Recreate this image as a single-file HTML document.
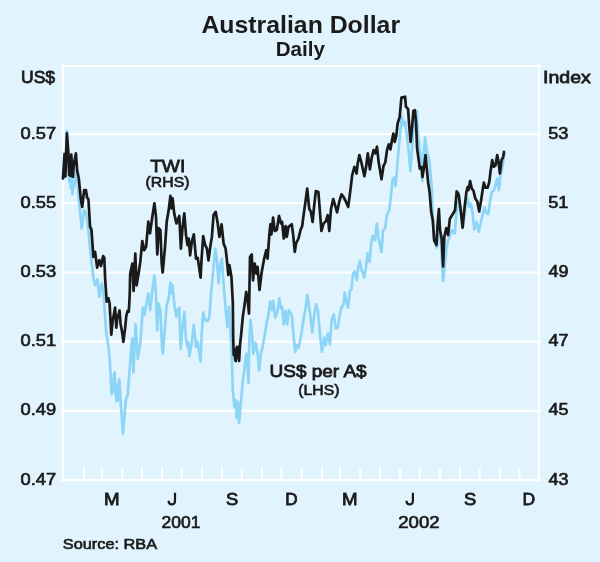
<!DOCTYPE html>
<html><head><meta charset="utf-8">
<style>
html,body{margin:0;padding:0;background:#e1f3fd;}
body{width:600px;height:562px;overflow:hidden;position:relative;font-family:"Liberation Sans",sans-serif;color:#1a1a1a;}
svg{position:absolute;left:0;top:0;display:block;}
text{font-family:"Liberation Sans",sans-serif;fill:#1a1a1a;}
</style></head><body>
<svg width="600" height="562" viewBox="0 0 600 562">
<rect width="600" height="562" fill="#e1f3fd"/>
<g stroke="#ffffff" stroke-width="2.1" fill="none">
<path d="M61 134.15H540.8M61 203.32H540.8M61 272.49H540.8M61 341.66H540.8M61 410.83H540.8"/>
<path d="M61 66H540.8M61 480H540.8M63 64.2V481.8M538.9 64.2V481.8"/>
<path d="M83.9 468V480M102.2 468V480M122.4 468V480M141.9 468V480M162.1 468V480M181.7 468V480M201.9 468V480M222.1 468V480M241.7 468V480M261.9 468V480M281.4 468V480M301.6 468V480M321.9 468V480M340.1 468V480M360.3 468V480M379.9 468V480M400.1 468V480M419.6 468V480M439.9 468V480M460.1 468V480M479.6 468V480M499.8 468V480M519.4 468V480"/>
</g>
<path d="M63.0 178.5 L64.4 153.0 L65.2 170.0 L66.9 130.9 L68.2 160.0 L69.4 182.0 L70.2 176.0 L70.8 188.0 L71.6 180.0 L72.5 194.0 L73.3 183.0 L74.2 187.0 L75.9 171.0 L77.4 178.0 L79.2 203.6 L81.7 228.4 L84.2 210.0 L86.3 214.0 L88.4 230.0 L90.1 248.5 L92.6 271.0 L93.8 280.0 L95.1 285.0 L97.4 279.5 L99.3 296.7 L101.8 283.0 L103.8 296.7 L106.0 330.2 L108.5 346.9 L109.8 360.0 L111.6 394.3 L112.4 380.0 L113.1 392.0 L114.0 374.0 L114.7 372.5 L115.4 392.0 L116.5 401.0 L117.2 386.0 L117.9 400.5 L118.6 383.0 L119.4 379.2 L120.3 396.0 L121.0 406.8 L123.0 433.6 L124.9 410.2 L126.1 398.5 L127.7 395.1 L130.2 362.0 L131.1 350.2 L132.3 338.5 L133.4 372.5 L135.6 324.3 L137.8 358.6 L140.3 343.5 L142.8 307.6 L144.4 315.1 L148.3 293.4 L150.2 310.2 L152.0 293.4 L154.4 275.5 L155.9 293.4 L157.2 330.2 L158.5 303.5 L160.4 310.2 L161.7 340.3 L162.7 353.6 L165.0 326.9 L166.7 305.2 L168.7 298.5 L170.4 282.6 L171.4 293.4 L172.6 285.1 L174.2 303.5 L176.4 316.9 L177.6 310.2 L179.3 307.7 L180.7 349.0 L182.6 326.9 L184.3 311.8 L186.0 340.0 L187.6 347.0 L188.3 342.0 L189.5 355.9 L191.8 342.0 L193.8 325.2 L196.0 347.0 L197.7 342.0 L200.6 361.7 L201.6 335.3 L203.2 312.7 L205.2 320.2 L207.7 321.0 L209.4 316.9 L211.0 293.4 L212.7 276.7 L214.2 260.0 L215.2 248.6 L216.9 260.0 L218.6 283.4 L220.2 265.0 L221.9 258.6 L223.6 285.1 L225.6 308.5 L227.3 326.9 L228.9 306.8 L230.3 326.9 L231.7 356.0 L232.8 390.2 L234.4 406.9 L235.6 400.2 L236.6 417.8 L237.8 401.9 L239.1 422.8 L240.8 403.5 L242.8 381.8 L244.5 368.4 L246.3 353.5 L247.6 366.0 L248.5 383.0 L249.4 338.5 L250.5 320.1 L251.7 330.2 L253.4 353.6 L255.4 342.7 L257.6 353.6 L259.2 370.3 L260.9 353.6 L262.6 346.9 L264.7 335.2 L266.8 321.8 L268.4 315.1 L270.1 301.7 L271.8 310.1 L273.1 300.9 L275.1 317.6 L277.1 313.4 L279.3 298.4 L281.0 308.4 L282.1 306.8 L283.8 324.3 L285.5 310.9 L287.2 324.3 L288.8 310.1 L291.8 315.1 L293.5 335.2 L295.2 351.9 L296.9 345.2 L298.5 347.7 L300.2 340.2 L302.2 328.5 L303.9 316.8 L305.7 307.6 L307.4 295.1 L309.1 306.8 L310.6 316.8 L312.2 332.7 L314.4 313.4 L316.1 304.2 L317.8 310.1 L319.4 328.5 L321.9 351.9 L324.1 337.7 L325.6 345.2 L327.8 333.5 L330.0 344.4 L331.6 320.0 L333.7 314.4 L335.9 328.6 L338.0 326.9 L340.0 313.5 L341.7 306.9 L343.4 305.2 L344.7 292.6 L346.4 301.8 L348.1 307.7 L349.7 291.8 L351.4 289.3 L353.1 273.4 L354.7 271.7 L356.8 280.1 L358.1 268.4 L359.8 260.9 L361.8 270.9 L364.3 277.6 L366.0 266.7 L367.6 253.3 L369.6 262.0 L370.9 245.3 L372.6 236.1 L375.1 240.2 L376.8 223.5 L378.4 236.9 L381.5 251.9 L383.1 230.2 L385.1 228.5 L386.8 215.2 L389.3 210.1 L391.0 195.1 L392.6 180.0 L394.3 177.5 L395.5 186.0 L396.8 172.0 L397.6 160.3 L399.7 138.5 L401.7 116.8 L403.4 125.1 L405.1 121.8 L406.8 135.2 L408.4 148.5 L410.4 170.8 L411.8 151.9 L413.4 128.5 L415.1 118.4 L416.8 110.9 L418.1 135.2 L420.1 151.9 L422.4 181.0 L423.8 151.9 L425.2 137.7 L426.8 151.9 L429.3 160.3 L431.0 178.6 L431.9 190.0 L432.7 215.1 L433.7 236.8 L436.7 247.7 L438.4 233.5 L440.4 233.5 L441.7 256.9 L443.1 281.1 L444.7 266.9 L446.4 248.5 L448.1 240.2 L449.7 236.8 L451.7 230.1 L454.7 233.5 L456.4 213.0 L458.0 200.0 L459.5 205.0 L461.0 214.0 L462.6 228.0 L464.3 216.0 L466.0 204.0 L467.6 198.6 L469.3 207.0 L470.9 203.6 L472.6 213.4 L474.3 229.3 L476.5 221.8 L478.8 231.8 L481.0 221.8 L483.2 212.0 L484.4 207.6 L486.0 212.7 L488.3 214.0 L490.2 200.3 L491.8 191.9 L493.8 190.2 L495.5 185.2 L497.2 178.5 L498.9 190.2 L500.5 175.2 L502.2 168.5 L503.5 160.1 L504.4 153.4" fill="none" stroke="#8dd5f7" stroke-width="2.7" stroke-linejoin="round" stroke-linecap="round"/>
<path d="M63.0 178.5 L64.6 154.2 L65.4 176.5 L66.9 133.4 L68.4 153.4 L69.2 175.0 L70.2 160.0 L70.6 176.0 L71.3 154.6 L72.2 172.0 L72.9 177.0 L73.6 167.0 L74.6 160.0 L75.9 153.4 L77.1 170.0 L78.8 178.4 L80.9 200.0 L82.2 207.0 L84.2 190.0 L85.9 190.0 L87.1 197.8 L88.4 199.0 L90.1 226.8 L91.4 229.3 L93.4 256.9 L95.1 251.8 L97.1 267.7 L99.3 260.2 L101.0 266.0 L103.1 256.0 L104.3 257.7 L105.2 280.0 L106.7 301.7 L108.4 298.3 L109.6 303.4 L111.3 334.7 L112.5 322.0 L113.8 315.0 L115.1 307.5 L116.3 327.6 L117.2 318.0 L118.0 316.7 L119.6 310.5 L120.5 323.4 L122.2 332.6 L123.4 341.8 L125.1 328.4 L126.3 315.9 L127.6 310.9 L128.8 311.7 L129.7 295.0 L130.2 273.6 L132.4 263.5 L133.6 291.0 L135.3 253.5 L136.6 285.3 L138.6 273.6 L140.3 261.9 L142.3 241.0 L144.1 250.2 L146.1 246.8 L148.3 221.7 L150.0 233.4 L152.0 219.0 L154.4 203.3 L156.0 216.7 L157.3 254.5 L158.6 228.0 L160.4 230.2 L161.7 263.6 L162.7 272.5 L165.0 246.9 L166.7 221.8 L168.7 210.1 L170.4 195.9 L171.4 208.4 L172.6 198.4 L174.2 213.4 L176.4 223.5 L177.6 220.1 L179.3 216.0 L180.9 248.6 L182.6 226.8 L184.3 213.4 L186.0 235.2 L187.6 245.2 L188.8 238.5 L190.1 255.3 L191.8 241.9 L193.8 234.3 L196.0 258.6 L197.7 257.8 L200.6 277.6 L201.6 258.6 L203.2 236.0 L205.2 245.2 L206.9 248.6 L208.5 260.3 L210.5 245.2 L211.9 236.9 L213.5 215.1 L215.7 211.8 L217.7 223.5 L219.4 236.9 L221.6 224.3 L222.7 235.2 L223.6 243.5 L225.6 248.6 L226.9 260.0 L228.3 275.0 L229.4 265.0 L231.4 276.7 L232.8 301.8 L233.2 338.0 L233.7 355.0 L234.5 349.0 L235.2 360.0 L235.8 361.0 L236.4 350.0 L237.0 346.8 L237.6 358.0 L238.2 347.0 L239.1 361.0 L240.0 345.1 L241.1 335.0 L242.8 316.9 L244.5 305.2 L246.2 291.8 L247.8 301.8 L249.0 313.5 L250.0 257.0 L251.7 254.4 L253.0 280.3 L254.7 263.6 L256.4 273.6 L257.6 266.9 L259.5 290.0 L261.7 271.9 L264.2 258.6 L266.3 250.2 L267.6 258.6 L269.3 235.2 L270.4 224.3 L271.4 234.3 L273.1 217.6 L274.8 231.0 L276.8 230.1 L279.0 215.9 L281.0 223.4 L282.1 221.8 L283.8 238.5 L285.5 226.0 L286.8 236.8 L288.5 226.8 L291.8 224.3 L293.2 235.2 L294.8 251.9 L296.0 243.5 L298.5 238.5 L300.5 230.1 L302.2 226.0 L303.5 215.6 L305.3 203.0 L307.2 188.5 L309.2 208.6 L310.9 211.9 L312.6 222.0 L314.2 205.3 L315.9 191.0 L318.4 191.9 L320.1 214.0 L321.4 231.0 L323.6 223.4 L326.0 221.0 L327.7 215.2 L329.3 231.0 L331.0 209.0 L333.2 199.0 L335.2 205.6 L337.1 212.3 L339.2 202.0 L341.5 194.4 L343.5 196.9 L346.0 201.9 L348.2 206.9 L350.2 191.9 L352.2 175.2 L354.4 166.8 L356.6 173.5 L357.7 163.4 L359.4 155.1 L361.6 163.4 L364.4 176.3 L366.1 166.8 L367.8 153.4 L369.9 169.3 L371.9 156.8 L373.6 150.1 L375.3 153.4 L377.0 146.7 L378.6 161.8 L381.5 179.3 L383.5 165.8 L385.3 162.3 L387.0 150.2 L388.7 144.4 L390.4 149.4 L392.0 140.2 L393.4 133.5 L394.7 141.9 L396.4 135.2 L397.6 123.5 L399.7 116.8 L401.4 97.5 L405.1 96.7 L405.9 106.7 L408.1 109.2 L409.3 126.8 L410.6 141.9 L412.1 126.8 L413.4 110.9 L414.8 110.1 L416.0 121.8 L417.1 148.5 L418.5 158.6 L419.8 168.6 L421.5 166.9 L422.5 177.0 L424.3 165.3 L425.5 155.2 L426.8 168.6 L428.2 183.0 L429.6 192.0 L431.2 212.0 L432.8 220.2 L434.2 240.5 L436.5 245.0 L437.6 224.0 L438.9 209.2 L440.0 230.1 L441.7 238.8 L443.1 266.5 L444.3 236.8 L446.3 228.0 L448.1 235.2 L449.8 219.0 L452.5 214.5 L455.0 210.3 L456.7 191.3 L458.7 194.5 L460.6 209.0 L462.6 227.6 L464.5 208.0 L466.4 192.0 L467.6 187.0 L468.4 190.2 L470.1 181.0 L471.8 188.6 L473.4 190.5 L475.3 198.6 L477.3 201.5 L479.2 211.5 L481.0 201.0 L482.6 190.2 L483.8 182.7 L485.5 187.7 L487.7 187.7 L489.3 181.9 L490.7 170.2 L492.2 160.1 L493.8 166.8 L495.5 165.2 L497.2 155.1 L498.5 161.8 L499.9 173.5 L501.5 160.1 L503.2 156.8 L504.0 151.8" fill="none" stroke="#1a1a1a" stroke-width="2.7" stroke-linejoin="round" stroke-linecap="round"/>
<g opacity="0.995">
<text transform="translate(201.41 33.00) scale(1.0519 1)" font-size="23.6" font-weight="bold">Australian Dollar</text>
<text transform="translate(275.71 55.70) scale(0.9929 1)" font-size="20.8" font-weight="bold">Daily</text>
<text transform="translate(21.01 82.50) scale(1.0263 1)" font-size="17.1" stroke="#1a1a1a" stroke-width="0.8">US$</text>
<text transform="translate(543.03 82.50) scale(1.1430 1)" font-size="17.1" stroke="#1a1a1a" stroke-width="0.8">Index</text>
<text transform="translate(150.15 172.40) scale(1.1212 1)" font-size="17.1" stroke="#1a1a1a" stroke-width="0.8">TWI</text>
<text transform="translate(145.62 186.90) scale(1.1038 1)" font-size="14.3" stroke="#1a1a1a" stroke-width="0.65">(RHS)</text>
<text transform="translate(269.51 377.30) scale(1.1112 1)" font-size="17.1" stroke="#1a1a1a" stroke-width="0.8">US$ per A$</text>
<text transform="translate(298.32 394.80) scale(1.1016 1)" font-size="14.3" stroke="#1a1a1a" stroke-width="0.65">(LHS)</text>
<text transform="translate(62.85 548.60) scale(1.1163 1)" font-size="14.6" stroke="#1a1a1a" stroke-width="0.65">Source: RBA</text>
<text transform="translate(161.53 527.90) scale(1.0773 1)" font-size="16.2" stroke="#1a1a1a" stroke-width="0.65">2001</text>
<text transform="translate(398.25 527.90) scale(1.1482 1)" font-size="16.2" stroke="#1a1a1a" stroke-width="0.65">2002</text>
<text transform="translate(20.50 138.65) scale(1.1284 1)" font-size="16.2" stroke="#1a1a1a" stroke-width="0.65">0.57</text>
<text transform="translate(548.20 138.65) scale(1.1253 1)" font-size="16.2" stroke="#1a1a1a" stroke-width="0.65">53</text>
<text transform="translate(20.50 207.82) scale(1.1284 1)" font-size="16.2" stroke="#1a1a1a" stroke-width="0.65">0.55</text>
<text transform="translate(548.20 207.82) scale(1.1253 1)" font-size="16.2" stroke="#1a1a1a" stroke-width="0.65">51</text>
<text transform="translate(20.50 276.99) scale(1.1284 1)" font-size="16.2" stroke="#1a1a1a" stroke-width="0.65">0.53</text>
<text transform="translate(548.48 276.99) scale(1.1093 1)" font-size="16.2" stroke="#1a1a1a" stroke-width="0.65">49</text>
<text transform="translate(20.50 346.16) scale(1.1284 1)" font-size="16.2" stroke="#1a1a1a" stroke-width="0.65">0.51</text>
<text transform="translate(548.48 346.16) scale(1.1093 1)" font-size="16.2" stroke="#1a1a1a" stroke-width="0.65">47</text>
<text transform="translate(20.50 415.33) scale(1.1284 1)" font-size="16.2" stroke="#1a1a1a" stroke-width="0.65">0.49</text>
<text transform="translate(548.48 415.33) scale(1.1093 1)" font-size="16.2" stroke="#1a1a1a" stroke-width="0.65">45</text>
<text transform="translate(20.50 484.50) scale(1.1284 1)" font-size="16.2" stroke="#1a1a1a" stroke-width="0.65">0.47</text>
<text transform="translate(548.48 484.50) scale(1.1093 1)" font-size="16.2" stroke="#1a1a1a" stroke-width="0.65">43</text>
<text transform="translate(104.00 504.70) scale(1.0951 1)" font-size="17.1" stroke="#1a1a1a" stroke-width="0.8">M</text>
<text transform="translate(226.08 504.70) scale(1.0728 1)" font-size="17.1" stroke="#1a1a1a" stroke-width="0.8">S</text>
<text transform="translate(285.34 504.70) scale(1.0026 1)" font-size="17.1" stroke="#1a1a1a" stroke-width="0.8">D</text>
<text transform="translate(342.00 504.70) scale(1.0951 1)" font-size="17.1" stroke="#1a1a1a" stroke-width="0.8">M</text>
<text transform="translate(463.98 504.70) scale(1.0728 1)" font-size="17.1" stroke="#1a1a1a" stroke-width="0.8">S</text>
<text transform="translate(522.39 504.70) scale(1.0249 1)" font-size="17.1" stroke="#1a1a1a" stroke-width="0.8">D</text>
<path transform="translate(-237.9 0)" d="M412.9 492.7V500.4C412.9 503.3 411.6 504.4 409.6 504.4C407.5 504.4 406.5 503.2 406.5 500.8" fill="none" stroke="#1a1a1a" stroke-width="2.2"/>
<path transform="translate(0.0 0)" d="M412.9 492.7V500.4C412.9 503.3 411.6 504.4 409.6 504.4C407.5 504.4 406.5 503.2 406.5 500.8" fill="none" stroke="#1a1a1a" stroke-width="2.2"/>
</g>
</svg>
</body></html>
